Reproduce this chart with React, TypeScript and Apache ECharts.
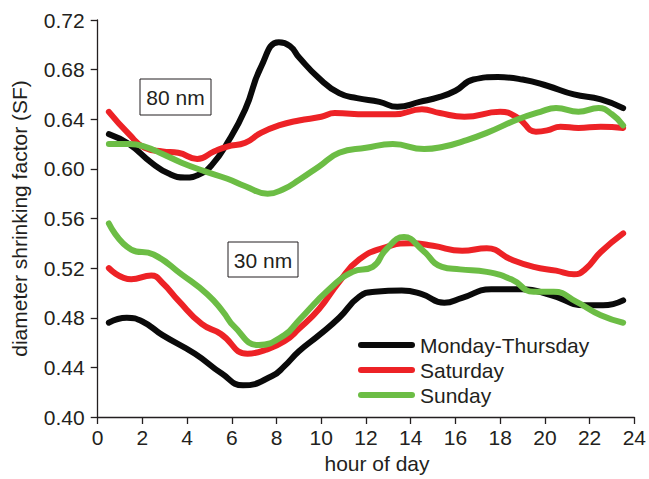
import React, { useEffect, useRef } from "react";
import * as echarts from "echarts";

// 80 nm particles
const monThu80Hours = [0.5, 1.4, 2.4, 3.2, 3.9, 4.6, 5.1, 5.8, 6.6, 7.3, 8.1, 8.6, 9.0, 9.9, 10.8, 11.6, 12.6, 13.4, 14.4, 15.3, 16.0, 16.8, 17.9, 19.0, 20.1, 21.3, 22.5, 23.5];
const monThu80 = [0.628, 0.620, 0.605, 0.596, 0.593, 0.596, 0.603, 0.621, 0.648, 0.682, 0.702, 0.699, 0.690, 0.673, 0.661, 0.657, 0.654, 0.650, 0.654, 0.658, 0.663, 0.672, 0.674, 0.672, 0.667, 0.660, 0.656, 0.649];

const sat80Hours = [0.5, 1.4, 2.1, 2.9, 3.6, 4.45, 5.2, 5.8, 6.6, 7.3, 8.1, 9.0, 10.0, 10.6, 12.0, 13.3, 14.5, 15.3, 16.4, 18.0, 18.8, 19.6, 20.1, 20.7, 21.5, 22.5, 23.5];
const sat80 = [0.646, 0.628, 0.617, 0.614, 0.613, 0.608, 0.614, 0.618, 0.621, 0.629, 0.635, 0.639, 0.642, 0.645, 0.644, 0.644, 0.648, 0.645, 0.642, 0.646, 0.641, 0.630, 0.631, 0.634, 0.633, 0.634, 0.633];

const sun80Hours = [0.5, 1.4, 2.1, 2.9, 3.75, 4.8, 5.8, 6.6, 7.6, 8.35, 9.0, 9.9, 10.8, 12.0, 13.2, 14.6, 15.5, 16.3, 17.4, 18.8, 19.8, 20.5, 21.5, 22.4, 23.0, 23.5];
const sun80 = [0.620, 0.620, 0.618, 0.612, 0.605, 0.598, 0.592, 0.586, 0.580, 0.584, 0.591, 0.602, 0.613, 0.617, 0.620, 0.616, 0.618, 0.622, 0.629, 0.640, 0.646, 0.649, 0.646, 0.649, 0.644, 0.635];

// 30 nm particles
const monThu30Hours = [0.5, 1.3, 2.0, 2.9, 4.35, 5.55, 6.5, 7.8, 8.35, 9.0, 9.9, 10.8, 11.7, 12.4, 13.6, 14.5, 15.5, 16.3, 17.6, 19.0, 20.3, 21.8, 22.6, 23.5];
const monThu30 = [0.476, 0.480, 0.477, 0.466, 0.451, 0.435, 0.4255, 0.433, 0.441, 0.453, 0.466, 0.480, 0.497, 0.501, 0.502, 0.499, 0.492, 0.496, 0.503, 0.503, 0.498, 0.490, 0.490, 0.494];

const sat30Hours = [0.5, 1.5, 2.4, 2.9, 3.6, 4.65, 5.5, 6.7, 7.5, 8.35, 9.0, 9.9, 10.8, 11.7, 12.9, 14.0, 15.0, 16.3, 17.4, 18.5, 19.5, 20.5, 21.3, 21.8, 22.5, 23.5];
const sat30 = [0.520, 0.511, 0.514, 0.508, 0.494, 0.475, 0.467, 0.451, 0.454, 0.461, 0.471, 0.487, 0.509, 0.527, 0.537, 0.540, 0.538, 0.534, 0.536, 0.527, 0.521, 0.518, 0.515, 0.519, 0.533, 0.548];

const sun30Hours = [0.5, 1.5, 2.5, 3.75, 4.9, 5.6, 6.1, 7.2, 8.35, 9.0, 10.35, 11.4, 12.3, 12.9, 13.7, 14.5, 15.4, 16.2, 17.4, 18.5, 19.5, 20.4, 21.4, 22.5, 23.5];
const sun30 = [0.556, 0.535, 0.531, 0.515, 0.499, 0.485, 0.473, 0.458, 0.466, 0.478, 0.503, 0.517, 0.521, 0.535, 0.545, 0.535, 0.521, 0.519, 0.517, 0.511, 0.501, 0.501, 0.493, 0.482, 0.476];

const seriesNames = ["Monday-Thursday", "Saturday", "Sunday"];
const seriesColors = ["#0a0a0a", "#ed2226", "#6cbd45"];
const sizeLabels = ["80 nm", "30 nm"];

const FONT = "'Liberation Sans', Arial, Helvetica, sans-serif";
const INK = "#231f20";
const FS = 21;

export default function App() {
  const ref = useRef<HTMLDivElement>(null);
  useEffect(() => {
    if (!ref.current) return;
    const chart = echarts.init(ref.current, undefined, { renderer: "svg" });
    const pairs = (hs: number[], vals: number[]) => hs.map((h, i) => [h, vals[i]]);
    const groups: [number[], number[]][][] = [
      [[monThu80Hours, monThu80], [monThu30Hours, monThu30]],
      [[sat80Hours, sat80], [sat30Hours, sat30]],
      [[sun80Hours, sun80], [sun30Hours, sun30]],
    ];
    const series: any[] = [];
    groups.forEach((g, gi) => {
      g.forEach(([hs, vals]) => {
        series.push({
          type: "line",
          name: seriesNames[gi],
          data: pairs(hs, vals),
          smooth: 0.5,
          showSymbol: false,
          symbol: "none",
          color: seriesColors[gi],
          lineStyle: { width: 6, color: seriesColors[gi], cap: "round", join: "round" },
          z: 2 + gi,
        });
      });
    });
    chart.setOption({
      animation: false,
      textStyle: { fontFamily: FONT, color: INK },
      grid: { left: 97.7, right: 13, top: 20, bottom: 60.3, containLabel: false },
      xAxis: {
        type: "value",
        min: 0,
        max: 24,
        interval: 2,
        name: "hour of day",
        nameLocation: "middle",
        nameGap: 36,
        nameTextStyle: { fontSize: FS, color: INK, fontFamily: FONT, padding: [0, 0, 0, 22] },
        axisLine: { show: true, lineStyle: { color: INK, width: 1.3 } },
        axisTick: { show: true, length: 7, lineStyle: { color: INK, width: 1.3 } },
        axisLabel: { fontSize: FS, color: INK, margin: 10, fontFamily: FONT },
        splitLine: { show: false },
      },
      yAxis: {
        type: "value",
        min: 0.4,
        max: 0.72,
        interval: 0.04,
        name: "diameter shrinking factor (SF)",
        nameLocation: "middle",
        nameRotate: 90,
        nameGap: 68,
        nameTextStyle: { fontSize: FS, color: INK, fontFamily: FONT },
        axisLine: { show: true, lineStyle: { color: INK, width: 1.3 } },
        axisTick: { show: true, length: 7, lineStyle: { color: INK, width: 1.3 } },
        axisLabel: {
          fontSize: FS,
          color: INK,
          margin: 13,
          fontFamily: FONT,
          formatter: (v: number) => v.toFixed(2),
        },
        splitLine: { show: false },
      },
      legend: {
        data: seriesNames,
        orient: "vertical",
        left: 358,
        top: 334.5,
        padding: 0,
        itemWidth: 57,
        itemHeight: 6,
        itemGap: 4,
        icon: "path://M3 0H54A3 3 0 0 1 54 6H3A3 3 0 0 1 3 0Z",
        itemStyle: { borderWidth: 0 },
        textStyle: { fontSize: FS, color: INK, fontFamily: FONT, padding: [0, 0, 0, 0] },
        selectedMode: false,
      },
      graphic: [
        {
          type: "rect",
          shape: { x: 140, y: 79, width: 71, height: 36 },
          style: { fill: "#fff", stroke: INK, lineWidth: 1 },
          z: 10,
        },
        {
          type: "text",
          x: 175.5,
          y: 97.5,
          style: { text: sizeLabels[0], fontSize: FS, fontFamily: FONT, fill: INK, align: "center", verticalAlign: "middle" },
          z: 11,
        },
        {
          type: "rect",
          shape: { x: 228, y: 242, width: 70, height: 35 },
          style: { fill: "#fff", stroke: INK, lineWidth: 1 },
          z: 10,
        },
        {
          type: "text",
          x: 263,
          y: 260,
          style: { text: sizeLabels[1], fontSize: FS, fontFamily: FONT, fill: INK, align: "center", verticalAlign: "middle" },
          z: 11,
        },
      ],
      series,
    });
    return () => chart.dispose();
  }, []);
  return (
    <div
      ref={ref}
      style={{ position: "fixed", left: 0, top: 0, width: 649, height: 479, background: "#fff" }}
    />
  );
}
